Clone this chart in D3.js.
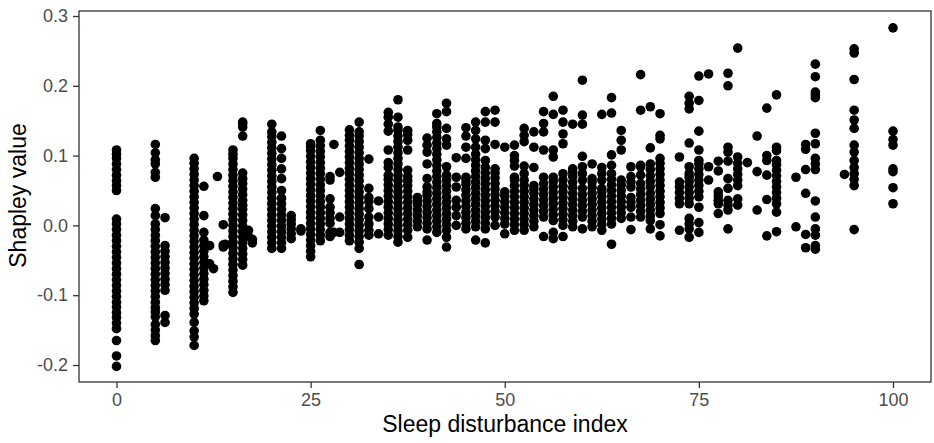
<!DOCTYPE html>
<html><head><meta charset="utf-8">
<script src="https://cdn.jsdelivr.net/npm/d3@7"></script>
<style>html,body{margin:0;padding:0;background:#fff}svg{display:block}text{font-family:"Liberation Sans",Arial,sans-serif}</style>
</head><body><div id="chart"></div>
<script>
const xTicks=[0,25,50,75,100];
const yTicks=[-0.2,-0.1,0,0.1,0.2,0.3];
const xTitle="Sleep disturbance index";
const yTitle="Shapley value";
const sleepIndex=[0,5,6.25,10,11.25,12,12.5,13,13.75,14,15,16.25,17,17.5,20,21.25,22.5,23.75,25,26.25,27.5,28,28.75,30,31.25,32.5,33.75,35,36.25,37.5,38.75,40,41.25,42.5,43.75,45,46.25,47.5,48.75,50,51.25,52.5,53.75,55,56.25,57.5,58.75,60,61.25,62.5,63.75,65,66.25,67.5,68.75,70,72.5,73.75,75,76.25,77.5,78.75,80,81.25,82.5,83.75,85,87.5,88.75,90,93.75,95,100];
const shapley=[
[-.202,-.187,-.165,-.148,-.14,-.132,-.125,-.117,-.11,-.102,-.094,-.086,-.078,-.07,-.062,-.054,-.046,-.038,-.03,-.022,-.014,-.006,.002,.009,.05,.057,.064,.072,.08,.088,.096,.102,.108],
[-.165,-.158,-.15,-.142,-.131,-.124,-.118,-.11,-.102,-.094,-.086,-.078,-.07,-.062,-.054,-.046,-.038,-.03,-.022,-.014,-.006,.002,.014,.024,.069,.076,.088,.094,.104,.116],
[-.139,-.129,-.093,-.085,-.077,-.069,-.061,-.053,-.045,-.037,-.029,.011],
[-.172,-.16,-.151,-.139,-.127,-.119,-.111,-.103,-.095,-.087,-.079,-.071,-.063,-.055,-.047,-.039,-.031,-.023,-.015,-.007,.001,.009,.017,.025,.033,.041,.049,.057,.065,.073,.081,.089,.096],
[-.108,-.101,-.093,-.085,-.077,-.069,-.061,-.053,-.045,-.037,-.029,-.021,-.01,.014,.056],
[-.055,-.029],
[-.062],
[.07],
[.001,-.028,-.031],
[-.027],
[-.096,-.088,-.08,-.072,-.064,-.056,-.048,-.04,-.032,-.024,-.016,-.008,0,.008,.016,.024,.032,.04,.048,.056,.064,.072,.08,.088,.096,.102,.108],
[-.057,-.049,-.041,-.033,-.025,-.017,-.009,-.001,.007,.015,.023,.029,.036,.044,.052,.06,.067,.075,.128,.141,.146,.148],
[-.007,-.016],
[-.025,-.02],
[-.033,-.025,-.017,-.009,-.001,.007,.015,.023,.031,.039,.047,.055,.063,.071,.079,.087,.095,.103,.111,.119,.127,.134,.145],
[-.033,-.025,-.017,-.009,-.001,.007,.015,.023,.031,.039,.05,.067,.081,.096,.11,.128],
[-.019,-.012,-.005,.002,.008,.014],
[-.005,-.008],
[-.045,-.037,-.029,-.021,-.013,-.005,.003,.011,.019,.027,.035,.043,.051,.059,.067,.075,.083,.091,.099,.107,.113,.117],
[-.022,-.014,-.006,.002,.01,.018,.026,.034,.042,.05,.058,.066,.074,.082,.09,.098,.106,.114,.122,.136],
[-.016,-.01,.003,.01,.018,.026,.038,.065,.07],
[.116,-.01],
[-.01,.012,.076],
[-.022,-.014,-.006,.002,.01,.018,.026,.034,.042,.05,.058,.066,.074,.082,.09,.098,.106,.114,.122,.129,.137],
[-.056,-.033,-.024,-.016,-.008,0,.008,.016,.024,.032,.04,.048,.056,.064,.072,.08,.088,.096,.104,.112,.12,.128,.134,.148],
[-.014,-.007,.002,.012,.024,.034,.04,.053,.095],
[-.012,.012,.035],
[-.014,-.006,.002,.01,.018,.026,.034,.042,.05,.058,.066,.072,.083,.09,.108,.135,.145,.155,.162],
[-.024,-.016,-.008,0,.008,.016,.024,.032,.04,.048,.056,.064,.072,.08,.088,.096,.104,.112,.12,.128,.136,.141,.155,.18],
[-.017,-.007,.001,.009,.017,.025,.033,.041,.049,.057,.064,.07,.079,.108,.122,.136,.13],
[-.002,.006,.014,.022,.03,.036,.04],
[-.021,-.005,.003,.011,.019,.027,.035,.043,.048,.055,.067,.088,.115,.125,.105],
[-.01,-.002,.006,.014,.022,.03,.038,.046,.054,.062,.07,.078,.086,.094,.102,.11,.118,.126,.134,.141,.146,.16],
[-.031,-.017,-.007,.001,.009,.017,.025,.033,.041,.049,.057,.065,.072,.084,.115,.124,.139,.163,.175],
[0,.014,.026,.036,.055,.069,.097],
[-.005,.003,.011,.019,.027,.035,.043,.051,.059,.065,.069,.096,.112,.128,.14],
[-.021,-.002,.006,.014,.022,.03,.038,.046,.054,.062,.07,.078,.086,.094,.102,.112,.124,.136,.148],
[-.025,-.005,.003,.011,.019,.027,.035,.043,.051,.059,.067,.075,.083,.093,.11,.122,.148,.163],
[0,.012,.02,.028,.036,.044,.052,.06,.068,.075,.081,.116,.148,.165],
[-.012,.002,.01,.018,.026,.034,.042,.048,.112],
[-.007,.001,.009,.017,.025,.033,.041,.049,.057,.065,.069,.085,.093,.1,.115],
[-.007,.001,.009,.017,.025,.033,.041,.049,.057,.065,.074,.085,.12,.129,.139],
[-.002,.006,.014,.022,.03,.038,.046,.052,.057,.083,.112,.134],
[-.016,.012,.02,.028,.036,.044,.052,.06,.069,.108,.134,.146,.163],
[-.019,-.01,.007,.015,.023,.031,.039,.047,.055,.063,.069,.098,.108,.159,.185],
[-.016,0,.008,.016,.024,.032,.04,.048,.056,.065,.074,.117,.131,.148,.165],
[-.002,.006,.014,.022,.03,.038,.046,.054,.062,.07,.076,.081,.145],
[-.005,.012,.02,.028,.036,.044,.053,.065,.074,.084,.099,.145,.158,.208],
[-.002,.006,.014,.022,.03,.038,.046,.054,.062,.067,.088],
[-.007,.001,.009,.017,.025,.033,.041,.048,.053,.065,.074,.083,.159],
[-.027,.002,.01,.018,.026,.034,.042,.05,.058,.066,.074,.086,.101,.161,.183],
[.01,.018,.026,.034,.042,.05,.058,.065,.108,.122,.136],
[-.006,.012,.026,.033,.04,.055,.062,.07,.084],
[.012,.02,.028,.036,.044,.052,.06,.072,.084,.086,.165,.216],
[-.005,.007,.014,.022,.03,.038,.046,.055,.063,.071,.08,.088,.111,.17],
[-.015,.001,.017,.025,.033,.041,.049,.057,.065,.073,.081,.089,.096,.124,.129,.16],
[-.007,.031,.039,.047,.055,.062,.098],
[-.017,-.005,.002,.01,.031,.039,.047,.055,.063,.069,.074,.084,.118,.167,.175,.185],
[-.01,.004,.026,.041,.049,.057,.065,.073,.081,.088,.093,.108,.135,.179,.214],
[.065,.084,.217],
[.017,.031,.036,.042,.048,.078,.092],
[-.005,.022,.029,.036,.053,.067,.092,.105,.112,.2,.218],
[.029,.038,.057,.065,.073,.081,.089,.098,.254],
[.09],
[.022,.077,.128],
[-.015,.037,.072,.093,.1,.168],
[-.009,.019,.031,.039,.047,.055,.063,.071,.079,.087,.093,.107,.112,.187],
[-.002,.069],
[-.032,-.013,.046,.08,.109,.116],
[-.034,-.029,-.014,-.005,.012,.035,.08,.088,.096,.117,.132,.183,.187,.191,.213,.231],
[.073],
[-.006,.057,.066,.074,.083,.093,.105,.115,.139,.151,.165,.209,.247,.253],
[.031,.054,.077,.081,.115,.123,.135,.283]
];
const W=934,H=443;
const panel={left:79,right:931,top:11,bottom:382};
const x=d3.scaleLinear().domain([0,100]).range([116.5,893]);
const y=d3.scaleLinear().domain([-0.2,0.3]).range([365,16]);
const svg=d3.select("#chart").append("svg").attr("width",W).attr("height",H);
svg.append("rect").attr("x",panel.left).attr("y",panel.top).attr("width",panel.right-panel.left).attr("height",panel.bottom-panel.top).attr("fill","#fff");
const pts=sleepIndex.flatMap((v,i)=>shapley[i].map(s=>({v,s})));
svg.append("g").selectAll("circle").data(pts).join("circle")
  .attr("cx",d=>x(d.v)).attr("cy",d=>y(d.s)).attr("r",4.8).attr("fill","#000");
svg.append("rect").attr("x",panel.left).attr("y",panel.top).attr("width",panel.right-panel.left).attr("height",panel.bottom-panel.top).attr("fill","none").attr("stroke","#333").attr("stroke-width",1.3);
const gx=svg.append("g").attr("transform",`translate(0,${panel.bottom})`).call(d3.axisBottom(x).tickValues(xTicks).tickSize(6).tickPadding(5).tickFormat(d3.format("d")));
const gy=svg.append("g").attr("transform",`translate(${panel.left},0)`).call(d3.axisLeft(y).tickValues(yTicks).tickSize(6).tickPadding(5).tickFormat(d=>d3.format(".1f")(d).replace("−","-")));
[gx,gy].forEach(g=>{g.select(".domain").remove();g.selectAll("line").attr("stroke","#333").attr("stroke-width",1.3);g.selectAll("text").attr("fill","#4d4d4d").style("font-size","18px");});
svg.append("text").attr("x",505).attr("y",432).attr("text-anchor","middle").attr("fill","#000").style("font-size","23px").text(xTitle);
svg.append("text").attr("transform","translate(26,195.5) rotate(-90)").attr("text-anchor","middle").attr("fill","#000").style("font-size","23px").text(yTitle);
</script></body></html>
